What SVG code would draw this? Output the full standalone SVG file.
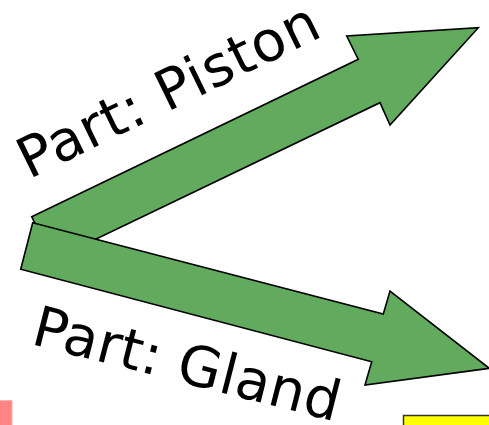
<svg xmlns="http://www.w3.org/2000/svg" width="489" height="425" viewBox="0 0 489 425">
<style>
.arrow{fill:#62AB5E;stroke:#000;stroke-width:1.6;stroke-linejoin:miter}
.lbl{font-family:"DejaVu Sans","Verdana",sans-serif;font-size:56px;fill:#000}
</style>
<rect x="0" y="0" width="489" height="425" fill="#fff"/>
<rect x="-2" y="400.5" width="14" height="30" fill="#FF8585" stroke="#FFB0B0" stroke-width="1"/>
<rect x="403.5" y="415.5" width="90" height="15" fill="#FFFF00" stroke="#333" stroke-width="1.5"/>
<g id="connectors">
<g id="arrow-piston"><polygon class="arrow" points="31.7,216.7 358.3,59.3 346.7,36 478.3,27.7 390,125 380,102.7 52.5,260"/></g>
<g id="arrow-gland"><polygon class="arrow" points="32.7,222.7 383.3,314 390,291 489.3,368.3 365,385 371.7,361.7 20.7,269.3"/></g>
</g>
<g id="label-piston"><text class="lbl" transform="translate(29,179.5) rotate(-26)" textLength="328" lengthAdjust="spacing">Part: Piston</text></g>
<g id="label-gland"><text class="lbl" transform="translate(29.7,343.7) rotate(14.3)" textLength="315" lengthAdjust="spacing">Part: Gland</text></g>
</svg>
